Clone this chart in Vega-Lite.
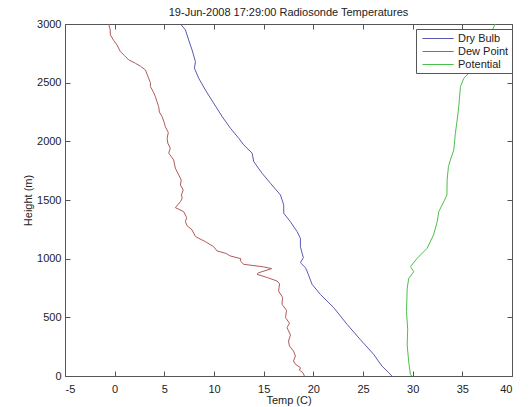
{
  "$schema": "https://vega.github.io/schema/vega-lite/v6.json",
  "width": 447,
  "height": 352,
  "autosize": {"type": "none"},
  "padding": {"left": 65, "top": 24, "right": 17, "bottom": 31},
  "background": "white",
  "title": {"text": "19-Jun-2008 17:29:00 Radiosonde Temperatures", "fontSize": 11, "fontWeight": "normal", "font": "Liberation Sans", "color": "#222", "offset": 0},
  "config": {
    "view": {"stroke": "#555", "strokeWidth": 1},
    "axis": {"labelFont": "Liberation Sans", "titleFont": "Liberation Sans", "labelFontSize": 11, "titleFontSize": 11, "titleFontWeight": "normal", "labelColor": "#222", "titleColor": "#222", "grid": false, "domain": false, "tickColor": "#555", "tickSize": -5}
  },
  "datasets": {
    "sonde": [
      {"series": "Dry Bulb", "height": 0, "temp": 27.9},
      {"series": "Dry Bulb", "height": 28, "temp": 27.6},
      {"series": "Dry Bulb", "height": 85, "temp": 26.9},
      {"series": "Dry Bulb", "height": 185, "temp": 26.07},
      {"series": "Dry Bulb", "height": 313, "temp": 24.7},
      {"series": "Dry Bulb", "height": 440, "temp": 23.4},
      {"series": "Dry Bulb", "height": 583, "temp": 22.05},
      {"series": "Dry Bulb", "height": 696, "temp": 20.7},
      {"series": "Dry Bulb", "height": 782, "temp": 19.87},
      {"series": "Dry Bulb", "height": 895, "temp": 19.36},
      {"series": "Dry Bulb", "height": 924, "temp": 19.2},
      {"series": "Dry Bulb", "height": 966, "temp": 18.7},
      {"series": "Dry Bulb", "height": 1009, "temp": 19.0},
      {"series": "Dry Bulb", "height": 1046, "temp": 18.87},
      {"series": "Dry Bulb", "height": 1102, "temp": 18.7},
      {"series": "Dry Bulb", "height": 1174, "temp": 18.7},
      {"series": "Dry Bulb", "height": 1230, "temp": 18.37},
      {"series": "Dry Bulb", "height": 1315, "temp": 17.69},
      {"series": "Dry Bulb", "height": 1387, "temp": 17.02},
      {"series": "Dry Bulb", "height": 1458, "temp": 17.02},
      {"series": "Dry Bulb", "height": 1543, "temp": 16.69},
      {"series": "Dry Bulb", "height": 1643, "temp": 15.68},
      {"series": "Dry Bulb", "height": 1728, "temp": 14.84},
      {"series": "Dry Bulb", "height": 1827, "temp": 14.0},
      {"series": "Dry Bulb", "height": 1899, "temp": 13.84},
      {"series": "Dry Bulb", "height": 1969, "temp": 13.0},
      {"series": "Dry Bulb", "height": 2026, "temp": 12.49},
      {"series": "Dry Bulb", "height": 2112, "temp": 11.65},
      {"series": "Dry Bulb", "height": 2211, "temp": 10.82},
      {"series": "Dry Bulb", "height": 2325, "temp": 9.97},
      {"series": "Dry Bulb", "height": 2438, "temp": 9.13},
      {"series": "Dry Bulb", "height": 2538, "temp": 8.46},
      {"series": "Dry Bulb", "height": 2623, "temp": 8.03},
      {"series": "Dry Bulb", "height": 2679, "temp": 8.13},
      {"series": "Dry Bulb", "height": 2779, "temp": 7.79},
      {"series": "Dry Bulb", "height": 2864, "temp": 7.45},
      {"series": "Dry Bulb", "height": 2950, "temp": 7.12},
      {"series": "Dry Bulb", "height": 3000, "temp": 6.62},
      {"series": "Dew Point", "height": 0, "temp": 19.1},
      {"series": "Dew Point", "height": 28, "temp": 18.95},
      {"series": "Dew Point", "height": 50, "temp": 18.6},
      {"series": "Dew Point", "height": 71, "temp": 18.7},
      {"series": "Dew Point", "height": 100, "temp": 18.2},
      {"series": "Dew Point", "height": 128, "temp": 18.0},
      {"series": "Dew Point", "height": 170, "temp": 18.2},
      {"series": "Dew Point", "height": 213, "temp": 18.0},
      {"series": "Dew Point", "height": 255, "temp": 17.6},
      {"series": "Dew Point", "height": 298, "temp": 17.5},
      {"series": "Dew Point", "height": 350, "temp": 17.7},
      {"series": "Dew Point", "height": 412, "temp": 17.35},
      {"series": "Dew Point", "height": 450, "temp": 17.6},
      {"series": "Dew Point", "height": 497, "temp": 17.2},
      {"series": "Dew Point", "height": 560, "temp": 17.3},
      {"series": "Dew Point", "height": 611, "temp": 16.85},
      {"series": "Dew Point", "height": 670, "temp": 16.9},
      {"series": "Dew Point", "height": 725, "temp": 16.5},
      {"series": "Dew Point", "height": 785, "temp": 16.6},
      {"series": "Dew Point", "height": 810, "temp": 16.34},
      {"series": "Dew Point", "height": 838, "temp": 15.4},
      {"series": "Dew Point", "height": 867, "temp": 14.33},
      {"series": "Dew Point", "height": 880, "temp": 14.5},
      {"series": "Dew Point", "height": 915, "temp": 15.8},
      {"series": "Dew Point", "height": 930, "temp": 15.0},
      {"series": "Dew Point", "height": 952, "temp": 12.99},
      {"series": "Dew Point", "height": 980, "temp": 12.65},
      {"series": "Dew Point", "height": 1000, "temp": 12.7},
      {"series": "Dew Point", "height": 1023, "temp": 11.64},
      {"series": "Dew Point", "height": 1045, "temp": 11.2},
      {"series": "Dew Point", "height": 1066, "temp": 10.3},
      {"series": "Dew Point", "height": 1102, "temp": 9.97},
      {"series": "Dew Point", "height": 1145, "temp": 9.13},
      {"series": "Dew Point", "height": 1188, "temp": 8.13},
      {"series": "Dew Point", "height": 1245, "temp": 7.79},
      {"series": "Dew Point", "height": 1280, "temp": 7.3},
      {"series": "Dew Point", "height": 1315, "temp": 7.12},
      {"series": "Dew Point", "height": 1350, "temp": 7.25},
      {"series": "Dew Point", "height": 1401, "temp": 6.95},
      {"series": "Dew Point", "height": 1435, "temp": 6.11},
      {"series": "Dew Point", "height": 1486, "temp": 6.62},
      {"series": "Dew Point", "height": 1515, "temp": 6.8},
      {"series": "Dew Point", "height": 1543, "temp": 6.72},
      {"series": "Dew Point", "height": 1585, "temp": 6.9},
      {"series": "Dew Point", "height": 1628, "temp": 6.62},
      {"series": "Dew Point", "height": 1670, "temp": 6.7},
      {"series": "Dew Point", "height": 1714, "temp": 6.45},
      {"series": "Dew Point", "height": 1771, "temp": 6.11},
      {"series": "Dew Point", "height": 1841, "temp": 5.94},
      {"series": "Dew Point", "height": 1870, "temp": 5.7},
      {"series": "Dew Point", "height": 1899, "temp": 5.44},
      {"series": "Dew Point", "height": 1941, "temp": 5.6},
      {"series": "Dew Point", "height": 1985, "temp": 5.35},
      {"series": "Dew Point", "height": 2026, "temp": 5.28},
      {"series": "Dew Point", "height": 2075, "temp": 5.4},
      {"series": "Dew Point", "height": 2125, "temp": 5.1},
      {"series": "Dew Point", "height": 2170, "temp": 4.95},
      {"series": "Dew Point", "height": 2211, "temp": 4.77},
      {"series": "Dew Point", "height": 2250, "temp": 4.5},
      {"series": "Dew Point", "height": 2296, "temp": 4.43},
      {"series": "Dew Point", "height": 2340, "temp": 4.25},
      {"series": "Dew Point", "height": 2381, "temp": 4.1},
      {"series": "Dew Point", "height": 2420, "temp": 3.9},
      {"series": "Dew Point", "height": 2466, "temp": 3.6},
      {"series": "Dew Point", "height": 2500, "temp": 3.6},
      {"series": "Dew Point", "height": 2538, "temp": 3.42},
      {"series": "Dew Point", "height": 2609, "temp": 3.09},
      {"series": "Dew Point", "height": 2640, "temp": 2.6},
      {"series": "Dew Point", "height": 2666, "temp": 2.08},
      {"series": "Dew Point", "height": 2694, "temp": 1.41},
      {"series": "Dew Point", "height": 2730, "temp": 1.0},
      {"series": "Dew Point", "height": 2765, "temp": 0.57},
      {"series": "Dew Point", "height": 2821, "temp": 0.24},
      {"series": "Dew Point", "height": 2860, "temp": -0.1},
      {"series": "Dew Point", "height": 2906, "temp": -0.43},
      {"series": "Dew Point", "height": 2950, "temp": -0.45},
      {"series": "Dew Point", "height": 3000, "temp": -0.6},
      {"series": "Potential", "height": 0, "temp": 29.95},
      {"series": "Potential", "height": 9, "temp": 29.78},
      {"series": "Potential", "height": 120, "temp": 29.6},
      {"series": "Potential", "height": 264, "temp": 29.45},
      {"series": "Potential", "height": 400, "temp": 29.5},
      {"series": "Potential", "height": 548, "temp": 29.38},
      {"series": "Potential", "height": 748, "temp": 29.45},
      {"series": "Potential", "height": 833, "temp": 29.61},
      {"series": "Potential", "height": 889, "temp": 30.11},
      {"series": "Potential", "height": 932, "temp": 29.78},
      {"series": "Potential", "height": 1003, "temp": 30.45},
      {"series": "Potential", "height": 1032, "temp": 30.79},
      {"series": "Potential", "height": 1089, "temp": 31.46},
      {"series": "Potential", "height": 1202, "temp": 32.1},
      {"series": "Potential", "height": 1315, "temp": 32.47},
      {"series": "Potential", "height": 1401, "temp": 32.63},
      {"series": "Potential", "height": 1486, "temp": 33.13},
      {"series": "Potential", "height": 1543, "temp": 33.45},
      {"series": "Potential", "height": 1671, "temp": 33.47},
      {"series": "Potential", "height": 1784, "temp": 33.6},
      {"series": "Potential", "height": 1841, "temp": 33.8},
      {"series": "Potential", "height": 1927, "temp": 34.14},
      {"series": "Potential", "height": 2069, "temp": 34.3},
      {"series": "Potential", "height": 2182, "temp": 34.48},
      {"series": "Potential", "height": 2296, "temp": 34.64},
      {"series": "Potential", "height": 2466, "temp": 34.81},
      {"series": "Potential", "height": 2538, "temp": 35.15},
      {"series": "Potential", "height": 2580, "temp": 35.65},
      {"series": "Potential", "height": 2700, "temp": 36.6},
      {"series": "Potential", "height": 2850, "temp": 37.5},
      {"series": "Potential", "height": 3000, "temp": 38.3}
    ]
  },
  "data": {"name": "sonde"},
  "layer": [
    {
      "mark": {"type": "line", "strokeWidth": 1, "clip": true},
      "encoding": {
        "x": {"field": "temp", "type": "quantitative", "scale": {"domain": [-5, 40], "nice": false, "zero": false},
              "axis": {"values": [-5, 0, 5, 10, 15, 20, 25, 30, 35, 40], "labelExpr": "datum.value + ''", "title": "Temp (C)", "labelPadding": 12, "titlePadding": 0}},
        "y": {"field": "height", "type": "quantitative", "scale": {"domain": [0, 3000], "nice": false},
              "axis": {"values": [0, 500, 1000, 1500, 2000, 2500, 3000], "labelExpr": "datum.value + ''", "title": "Height (m)", "labelPadding": 9, "titlePadding": 3}},
        "color": {"field": "series", "type": "nominal",
                  "scale": {"domain": ["Dry Bulb", "Dew Point", "Potential"], "range": ["#5a5ab0", "#b05a5a", "#4cc04c"]},
                  "legend": {"title": null, "orient": "none", "legendX": 351, "legendY": 5, "strokeColor": "#555", "fillColor": "white", "padding": 3, "symbolType": "M-0.5,0H4.7", "symbolSize": 144, "symbolStrokeWidth": 1, "labelFont": "Liberation Sans", "labelFontSize": 11, "labelColor": "#222", "rowPadding": 1, "labelOffset": 26}},
        "order": {"field": "height", "type": "quantitative"}
      }
    },
    {
      "mark": {"type": "point", "opacity": 0},
      "encoding": {
        "x": {"field": "temp", "type": "quantitative", "axis": {"orient": "top", "values": [-5, 0, 5, 10, 15, 20, 25, 30, 35, 40], "labels": false, "title": null}},
        "y": {"field": "height", "type": "quantitative", "axis": {"orient": "right", "values": [0, 500, 1000, 1500, 2000, 2500, 3000], "labels": false, "title": null}}
      }
    }
  ],
  "resolve": {"axis": {"x": "independent", "y": "independent"}}
}
